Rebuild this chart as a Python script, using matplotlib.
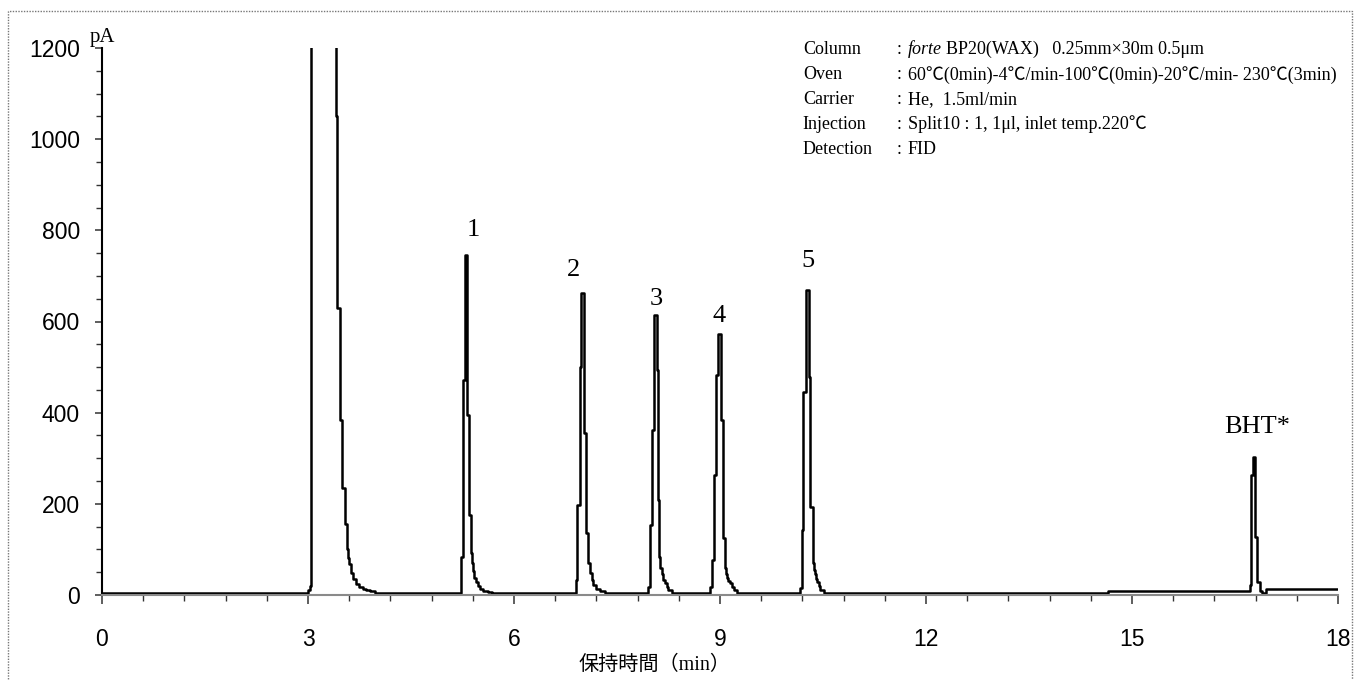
import numpy as np
import matplotlib
matplotlib.use('Agg')
import matplotlib.pyplot as plt
from matplotlib.ticker import MultipleLocator
from matplotlib.patches import Rectangle

plt.rcParams['font.family'] = ['Liberation Sans', 'DejaVu Sans']
SERIF = ['Liberation Serif', 'Noto Sans CJK JP', 'DejaVu Serif']

# trace, (min, pA), drawn as steps
# solvent peak goes off scale, its top is not visible
base_t = [0.0]
base_y = [5]
solvent_t = [3.00, 3.03, 3.04, 3.408, 3.427, 3.466, 3.495, 3.534, 3.563, 3.58, 3.60, 3.63, 3.66,
             3.70, 3.75, 3.80, 3.85, 3.90, 3.975]
solvent_y = [10, 20, 1400, 1050, 630, 385, 235, 155, 100, 82, 67, 48, 35, 25, 18, 13, 10, 8, 5]
peak1_t = [5.222, 5.251, 5.28, 5.31, 5.349, 5.368, 5.385, 5.40, 5.42, 5.44, 5.47, 5.50, 5.55, 5.62, 5.68]
peak1_y = [84, 471, 746, 395, 175, 92, 70, 52, 38, 28, 20, 14, 9, 6, 5]
peak2_t = [6.903, 6.922, 6.96, 6.98, 7.02, 7.048, 7.08, 7.106, 7.13, 7.155, 7.19, 7.25, 7.32]
peak2_y = [33, 197, 500, 662, 355, 136, 70, 48, 33, 22, 14, 8, 5]
peak3_t = [7.956, 7.98, 8.005, 8.043, 8.082, 8.09, 8.11, 8.13, 8.15, 8.175, 8.20, 8.225, 8.25, 8.30]
peak3_y = [18, 153, 362, 614, 493, 208, 84, 60, 45, 34, 26, 18, 12, 5]
peak4_t = [8.854, 8.883, 8.912, 8.94, 8.97, 9.01, 9.04, 9.07, 9.085, 9.10, 9.12, 9.145, 9.17, 9.20, 9.25]
peak4_y = [18, 77, 263, 482, 572, 384, 125, 59, 46, 38, 31, 26, 17, 10, 5]
peak5_t = [10.165, 10.19, 10.208, 10.247, 10.296, 10.315, 10.354, 10.367, 10.38, 10.395, 10.41,
           10.435, 10.46, 10.52]
peak5_y = [15, 142, 446, 669, 479, 194, 70, 55, 45, 36, 29, 19, 12, 5]
drift_t = [14.65]
drift_y = [9]
bht_t = [16.72, 16.74, 16.76, 16.79, 16.82, 16.86, 16.90, 16.95, 18.0]
bht_y = [22, 263, 303, 128, 29, 8, 5, 13, 13]

peak_labels = ['1', '2', '3', '4', '5', 'BHT*']
label_t = [5.40, 6.86, 8.07, 8.98, 10.28, 16.82]
label_y = [801, 712, 649, 611, 733, 368]

conditions = ['Column', 'Oven', 'Carrier', 'Injection', 'Detection']
values = ['BP20(WAX)   0.25mm×30m 0.5μm',
          '60℃(0min)-4℃/min-100℃(0min)-20℃/min- 230℃(3min)',
          'He,  1.5ml/min',
          'Split10 : 1, 1μl, inlet temp.220℃',
          'FID']

t = np.concatenate([base_t, solvent_t, peak1_t, peak2_t, peak3_t, peak4_t, peak5_t, drift_t, bht_t])
y = np.concatenate([base_y, solvent_y, peak1_y, peak2_y, peak3_y, peak4_y, peak5_y, drift_y, bht_y])

fig = plt.figure(figsize=(13.6, 6.8), dpi=100)
ax = fig.add_axes([102/1360, 85/680, 1236/1360, 547/680])

ax.plot(t, y, drawstyle='steps-post', color='black', lw=1.8)

ax.set_xlim(0, 18)
ax.set_ylim(0, 1200)
ax.set_xticks(range(0, 19, 3))
ax.xaxis.set_minor_locator(MultipleLocator(0.6))
ax.set_yticks(range(0, 1201, 200))
ax.yaxis.set_minor_locator(MultipleLocator(50))

for s in ['top', 'right']:
    ax.spines[s].set_visible(False)
ax.spines['bottom'].set_color('#8a8a8a')
ax.spines['bottom'].set_linewidth(1.5)
ax.spines['left'].set_color('black')
ax.spines['left'].set_linewidth(1.5)

ax.tick_params(axis='x', which='major', length=6.5, width=1.1, pad=17, labelsize=16.5, color='#333333')
ax.tick_params(axis='x', which='minor', length=4.3, width=1.0, color='#333333')
ax.tick_params(axis='y', which='major', length=5, width=1.1, pad=11, labelsize=16.5, color='#333333')
ax.tick_params(axis='y', which='minor', length=4.3, width=1.0, color='#333333')

for lab, lt, ly in zip(peak_labels, label_t, label_y):
    ax.text(lt, ly, lab, ha='center', va='center', fontsize=19, family=SERIF)

ax.text(-0.0097, 1.011, 'pA', transform=ax.transAxes, ha='left', va='baseline',
        fontsize=15, family=SERIF)

ax.text(0.447, -0.129, '保持時間（min）', transform=ax.transAxes, ha='center', va='center',
        fontsize=14.5, family=SERIF)

# conditions block, top right
row_y = [0.998, 0.951, 0.905, 0.861, 0.815]
for name, val, ry in zip(conditions, values, row_y):
    ax.text(0.567, ry, name, transform=ax.transAxes, ha='left', va='center', fontsize=13, family=SERIF)
    ax.text(0.643, ry, ':', transform=ax.transAxes, ha='left', va='center', fontsize=13, family=SERIF)
    if name == 'Column':
        it = ax.text(0.652, ry, 'forte', transform=ax.transAxes, ha='left', va='center',
                     fontsize=13, family=SERIF, style='italic')
        ax.annotate(val, xy=(1, 0.5), xycoords=it, xytext=(3, 0), textcoords='offset points',
                    ha='left', va='center', fontsize=13, family=SERIF)
    else:
        ax.text(0.652, ry, val, transform=ax.transAxes, ha='left', va='center', fontsize=13, family=SERIF)

fig.patches.append(Rectangle((8/1360, -0.01), 1344/1360, 1 - 11/680 + 0.01, transform=fig.transFigure,
                             fill=False, ls=(0, (1, 1)), lw=1, ec='#777777'))

fig.savefig('out.png', dpi=100)
